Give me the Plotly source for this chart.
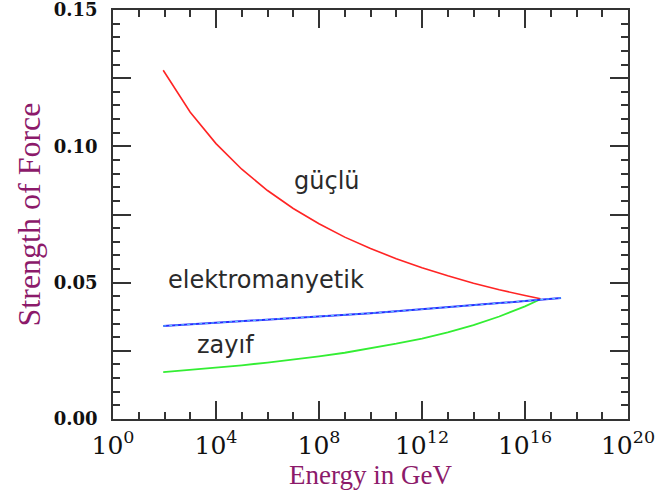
import plotly.graph_objects as go

# log10(Energy / GeV) sample points and the strength
strong_logE = [1.95, 3, 4, 5, 6, 7, 8, 9, 10, 11, 12, 13, 14, 15, 16, 16.6]
strong_val = [0.1279, 0.1125, 0.1010, 0.0916, 0.0838, 0.0772, 0.0716, 0.0667,
              0.0625, 0.0588, 0.0555, 0.0525, 0.0498, 0.0474, 0.0453, 0.0441]

em_logE = [1.95, 3, 4, 5, 6, 7, 8, 9, 10, 11, 12, 13, 14, 15, 16, 17, 17.4]
em_val = [0.0341, 0.0347, 0.0352, 0.0358, 0.0364, 0.0369, 0.0376, 0.0382,
          0.0388, 0.0395, 0.0402, 0.0409, 0.0417, 0.0425, 0.0433, 0.0441, 0.0444]

weak_logE = [1.95, 3, 4, 5, 6, 7, 8, 9, 10, 11, 12, 13, 14, 15, 16, 16.6]
weak_val = [0.0172, 0.0180, 0.0188, 0.0197, 0.0207, 0.0218, 0.0230, 0.0243,
            0.0259, 0.0276, 0.0295, 0.0318, 0.0344, 0.0376, 0.0413, 0.0439]

x_tick_exps = [0, 4, 8, 12, 16, 20]
x_minor_exps = list(range(0, 21))
y_tick_vals = [0.0, 0.025, 0.05, 0.075, 0.10, 0.125, 0.15]
y_tick_text = ["0.00", "", "0.05", "", "0.10", "", "0.15"]

labels = ["güçlü", "elektromanyetik", "zayıf"]
label_logE = [8.31, 5.94, 4.35]
label_val = [0.0873, 0.0510, 0.0271]

PURPLE = "#8c1a6a"
AX = "#333333"

fig = go.Figure()
fig.add_trace(go.Scatter(x=[10.0 ** v for v in strong_logE], y=strong_val, mode="lines",
                         line=dict(color="#ff2424", width=1.6), showlegend=False))
fig.add_trace(go.Scatter(x=[10.0 ** v for v in weak_logE], y=weak_val, mode="lines",
                         line=dict(color="#33ee33", width=1.8), showlegend=False))
fig.add_trace(go.Scatter(x=[10.0 ** v for v in em_logE], y=em_val, mode="lines",
                         line=dict(color="#2a2aff", width=2), showlegend=False))
fig.add_trace(go.Scatter(x=[10.0 ** v for v in em_logE], y=em_val, mode="lines",
                         line=dict(color="#55ccff", width=1, dash="dot"), showlegend=False))

for t, lx, ly in zip(labels, label_logE, label_val):
    fig.add_annotation(x=lx, y=ly, text=t, showarrow=False, xref="x", yref="y",
                       font=dict(family="DejaVu Sans", size=24, color="#2a2a2a"))

fig.update_xaxes(
    type="log", range=[0, 20],
    tickmode="array",
    tickvals=[10.0 ** e for e in x_tick_exps],
    ticktext=["10<sup>%d</sup>" % e for e in x_tick_exps],
    ticks="inside", ticklen=18, tickwidth=1.5, tickcolor=AX,
    minor=dict(tickmode="array", tickvals=[10.0 ** e for e in x_minor_exps],
               ticks="inside", ticklen=7, tickwidth=1.5, tickcolor=AX),
    showline=True, linecolor=AX, linewidth=1.5, mirror="ticks",
    showgrid=False, zeroline=False,
    tickfont=dict(family="DejaVu Serif", size=25, color="#111111"),
    ticklabelstandoff=3, ticklabeloverflow="allow",
    title=dict(text="Energy in GeV", standoff=2,
               font=dict(family="Liberation Serif", size=27, color=PURPLE)),
)
fig.update_yaxes(
    range=[0, 0.15],
    tickmode="array", tickvals=y_tick_vals, ticktext=y_tick_text,
    ticks="inside", ticklen=18, tickwidth=1.5, tickcolor=AX,
    minor=dict(dtick=0.005, ticks="inside", ticklen=7, tickwidth=1.5, tickcolor=AX),
    showline=True, linecolor=AX, linewidth=1.5, mirror="ticks",
    showgrid=False, zeroline=False,
    tickfont=dict(family="DejaVu Serif", size=18, color="#111111", weight="bold"),
    ticklabelstandoff=10, ticklabeloverflow="allow",
    title=dict(text="Strength of Force", standoff=4,
               font=dict(family="Liberation Serif", size=32, color=PURPLE)),
)
fig.update_layout(
    width=656, height=495,
    margin=dict(l=113, r=28, t=10, b=76, autoexpand=False),
    paper_bgcolor="white", plot_bgcolor="white",
)
fig.write_html("out.html")
